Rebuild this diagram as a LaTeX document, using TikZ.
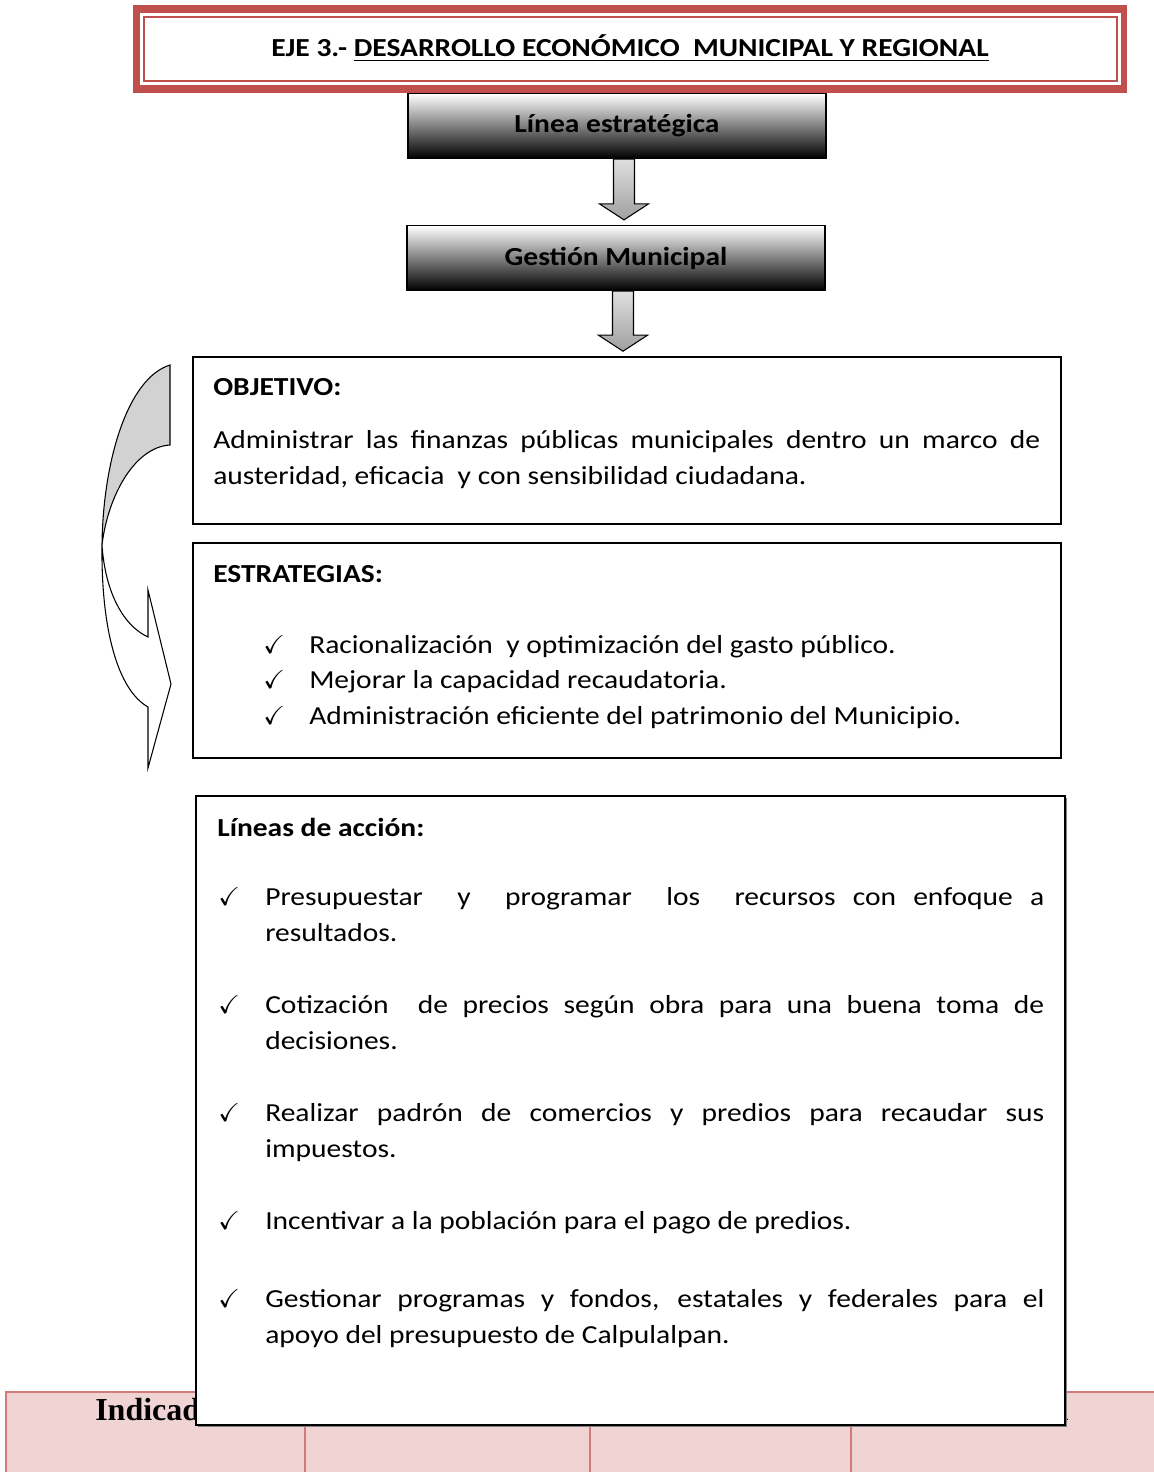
\documentclass[tikz,border=0pt]{standalone}
\usepackage{fontspec}
\setmainfont[FakeStretch=1.135]{Carlito}
\newfontfamily\tablefont{Liberation Serif}
\usepackage{amssymb}
\usetikzlibrary{calc,shadows}
\definecolor{framered}{HTML}{C0504D}
\definecolor{tablepink}{HTML}{F0D4D4}
\definecolor{tablered}{HTML}{D27B7B}
\newcommand{\bodysize}{\fontsize{19.5pt}{27pt}\selectfont}

\begin{document}
\begin{tikzpicture}[x=0.75pt,y=-0.75pt,every node/.style={font=\bodysize,inner sep=0pt},
    box/.style={draw=black,line width=1.2pt,fill=white},
    greybox/.style={draw=black,line width=1.2pt,top color=white,bottom color=black,
      minimum width=313.5pt,minimum height=48.5pt,font=\bodysize\bfseries},
    blockarrow/.style={draw=black,line width=0.8pt,top color=gray!25,bottom color=gray!75},
    item/.style={anchor=base west,text width=584.25pt,align=justify}]
  \useasboundingbox (0,0) rectangle (1154,1472);

  \fill[framered] (133,5) rectangle (1127,93);
  \fill[white] (140,13) rectangle (1121,85);
  \draw[framered,line width=1.2pt] (144,17) rectangle (1117,81);
  \node[font=\bodysize\bfseries] (title) at (630,48)
    {EJE 3.- \underline{DESARROLLO ECONÓMICO\ \ MUNICIPAL Y REGIONAL}};

  \node[greybox] (linea) at (617,126) {Línea estratégica};
  \node[greybox] (gestion) at (616,258) {Gestión Municipal};

  \node[box,minimum width=651pt,minimum height=125.25pt] (objetivo) at (627,440.5) {};
  \node[box,minimum width=651pt,minimum height=161.25pt] (estrategias) at (627,650.5) {};

  \foreach \src/\dst in {linea/gestion,gestion/objetivo} {
    \coordinate (s) at ($(\src.south)+(7,0)$);
    \coordinate (t) at ($(\dst.north)+(0,-5)$);
    \draw[blockarrow] ($(s)+(-10.5,0)$) -- ($(s |- t)+(-10.5,-16)$) -- ($(s |- t)+(-24.5,-16)$)
      -- (s |- t) -- ($(s |- t)+(24.5,-16)$) -- ($(s |- t)+(10.5,-16)$) -- ($(s)+(10.5,0)$) -- cycle;
  }

  \node[anchor=base west,font=\bodysize\bfseries] (objtitle) at (213,395) {OBJETIVO:};
  \node[anchor=base west,text width=620.25pt,align=justify] (objtext) at (213,448)
    {Administrar las finanzas públicas municipales dentro un marco de\linebreak
     austeridad, eficacia\ \ y con sensibilidad ciudadana.};

  \node[anchor=base west,font=\bodysize\bfseries] (esttitle) at (213,582) {ESTRATEGIAS:};
  \foreach \y/\txt in {653/{Racionalización\ \ y optimización del gasto público.},
                       688/{Mejorar la capacidad recaudatoria.},
                       724/{Administración eficiente del patrimonio del Municipio.}} {
    \node[anchor=base west] at (263,\y) {$\checkmark$};
    \node[anchor=base west] at (309,\y) {\txt};
  }

  % curved arrow on the left
  \filldraw[fill=gray!35,line width=0.8pt] (170,365) .. controls (128,378) and (103,460) .. (102,545)
    .. controls (108,495) and (135,447) .. (170,445) -- cycle;
  \filldraw[fill=white,line width=0.8pt] (102,545) .. controls (105,590) and (122,625) .. (148,637)
    -- (148,590) -- (171,684) -- (148,768) -- (148,707)
    .. controls (118,690) and (101,630) .. (102,545) -- cycle;

  \fill[tablepink] (6,1391) rectangle (1154,1472);
  \draw[tablered,line width=2.2pt] (5,1392) -- (1154,1392);
  \foreach \x in {6,305,590,851}
    \draw[tablered,line width=1.4pt] (\x,1392) -- (\x,1472);
  \node[anchor=base west,font=\tablefont\bfseries\fontsize{24pt}{28pt}\selectfont] (indhead) at (95,1420) {Indicador};
  \node[anchor=base east,font=\tablefont\bfseries\fontsize{24pt}{28pt}\selectfont] (deschead) at (1069,1420) {Descripción};

  \node[box,minimum width=651.75pt,minimum height=471.75pt,
    drop shadow={shadow xshift=1.5pt,shadow yshift=-1.5pt,fill=gray,opacity=1}] (acciones) at (630.5,1110.5) {};
  \node[anchor=base west,font=\bodysize\bfseries] (acctitle) at (217,836) {Líneas de acción:};
  \foreach \y/\txt in {905/{Presupuestar\ \ y\ \ programar\ \ los\ \ recursos con enfoque a\linebreak resultados.},
                       1013/{Cotización\ \ de precios según obra para una buena toma de\linebreak decisiones.},
                       1121/{Realizar padrón de comercios y predios para recaudar sus\linebreak impuestos.},
                       1229/{Incentivar a la población para el pago de predios.},
                       1307/{Gestionar programas y fondos, estatales y federales para el\linebreak apoyo del presupuesto de Calpulalpan.}} {
    \node[anchor=base west] at (218,\y) {$\checkmark$};
    \node[item] at (265,\y) {\txt};
  }
\end{tikzpicture}
\end{document}
